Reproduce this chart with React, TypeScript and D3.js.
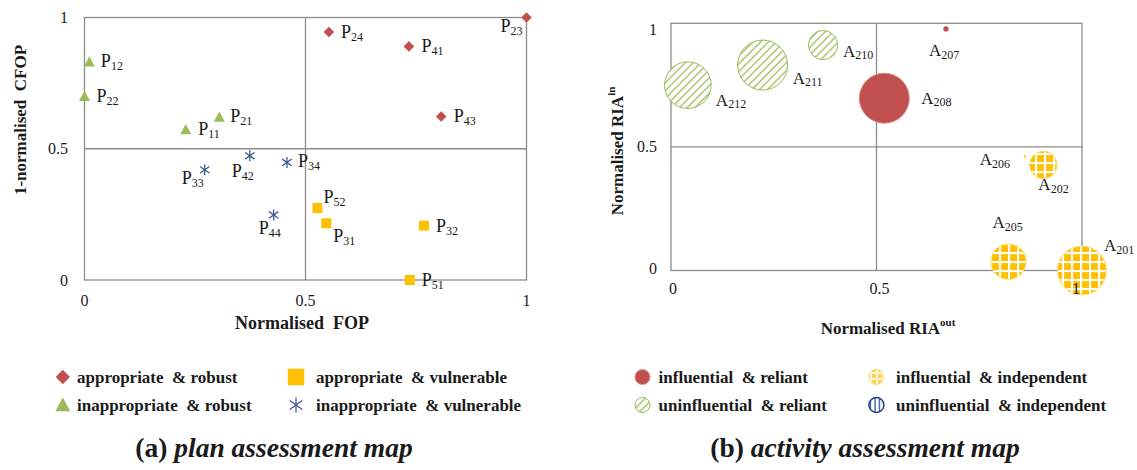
import React from 'react';
import * as d3 from 'd3';

// ---------- DATA ----------
// (a) plan assessment map
const planIds = ['23', '24', '41', '43', '12', '22', '21', '11', '42', '34', '33', '44', '52', '31', '32', '51'];
const planFOP = [1.0, 0.553, 0.734, 0.807, 0.011, 0.0, 0.305, 0.229, 0.374, 0.458, 0.272, 0.428, 0.527, 0.547, 0.768, 0.736];
const planCFOP = [1.0, 0.945, 0.89, 0.623, 0.831, 0.70, 0.621, 0.573, 0.473, 0.448, 0.42, 0.248, 0.274, 0.216, 0.207, 0.0];
const planClass = ['ar', 'ar', 'ar', 'ar', 'ir', 'ir', 'ir', 'ir', 'iv', 'iv', 'iv', 'iv', 'av', 'av', 'av', 'av'];
const planLegend = ['appropriate  & robust', 'appropriate  & vulnerable', 'inappropriate  & robust', 'inappropriate  & vulnerable'];
const planLegendClass = ['ar', 'av', 'ir', 'iv'];

// (b) activity assessment map
const actIds = ['207', '208', '210', '211', '212', '206', '202', '205', '201'];
const actRIAout = [0.669, 0.519, 0.37, 0.223, 0.041, 0.863, 0.906, 0.821, 1.0];
const actRIAin = [0.977, 0.697, 0.912, 0.831, 0.75, 0.461, 0.427, 0.036, 0.0];
const actSize = [0.011, 1.0, 0.34, 1.0, 0.87, 0.004, 0.3, 0.5, 0.95];
const actClass = ['ir', 'ir', 'ur', 'ur', 'ur', 'ii', 'ii', 'ii', 'ii'];
const actLegend = ['influential  & reliant', 'influential  & independent', 'uninfluential  & reliant', 'uninfluential  & independent'];
const actLegendClass = ['ir', 'ii', 'ur', 'ui'];

const ticks = [0, 0.5, 1];

// ---------- STYLE ----------
const FONT = '"Liberation Serif", "DejaVu Serif", serif';
const RED = '#C0504D';
const GREEN = '#9BBB59';
const YELLOW = '#FFC000';
const BLUE = '#3F5A94';
const NAVY = '#1F3F8F';
const FRAME = '#8c8c8c';
const TXT = '#1a1a1a';

const planLabelPos: Record<string, [number, number, string]> = {
  '23': [-4, 10, 'end'], '24': [12, 2, 'start'], '41': [12.5, 1.6, 'start'], '43': [12.5, 1.3, 'start'],
  '12': [11.5, 1, 'start'], '22': [12, 1.6, 'start'], '21': [11, 1, 'start'], '11': [12.5, 1.7, 'start'],
  '42': [-7, 17, 'middle'], '34': [11, 0.6, 'start'], '33': [-1, 10, 'end'], '44': [-4, 15, 'middle'],
  '52': [6, -9, 'start'], '31': [7, 15, 'start'], '32': [12, 2.6, 'start'], '51': [12, 1.7, 'start'],
};
const actLabelPos: Record<string, [number, number]> = {
  '207': [-17, 24], '208': [37, 2], '210': [20, 8], '211': [30, 15], '212': [28, 17],
  '206': [-46, 5], '202': [-5, 22], '205': [-16, -37], '201': [22, -23],
};

function PlanMarker({ cls, x, y, s = 1 }: { cls: string; x: number; y: number; s?: number }) {
  if (cls === 'ar') {
    const h = 5.3 * s;
    return <path d={`M${x},${y - h}L${x + h},${y}L${x},${y + h}L${x - h},${y}Z`} fill={RED} />;
  }
  if (cls === 'ir') {
    const h = 5.5 * s;
    return <path d={`M${x},${y - h}L${x + h},${y + h * 0.85}L${x - h},${y + h * 0.85}Z`} fill={GREEN} />;
  }
  if (cls === 'av') {
    const h = 5 * s;
    return <rect x={x - h} y={y - h} width={2 * h} height={2 * h} fill={YELLOW} />;
  }
  const h = 5.5 * s;
  return (
    <path
      d={`M${x},${y - h}L${x},${y + h}M${x - h * 0.85},${y - h * 0.6}L${x + h * 0.85},${y + h * 0.6}M${x - h * 0.85},${y + h * 0.6}L${x + h * 0.85},${y - h * 0.6}`}
      stroke={BLUE}
      strokeWidth={1.3}
      fill="none"
    />
  );
}

function actFill(cls: string, legend = false) {
  if (cls === 'ir') return RED;
  if (cls === 'ur') return 'url(#hatchGreen)';
  if (cls === 'ii') return legend ? 'url(#gridYellowSmall)' : 'url(#gridYellow)';
  return 'url(#vlinesBlue)';
}
function actStroke(cls: string) {
  if (cls === 'ir') return '#d98c8a';
  if (cls === 'ur') return GREEN;
  if (cls === 'ii') return '#FFD966';
  return NAVY;
}

export default function App() {
  const xL = d3.scaleLinear().domain([0, 1]).range([84.5, 526.5]);
  const yL = d3.scaleLinear().domain([0, 1]).range([280, 17.5]);
  const xR = d3.scaleLinear().domain([0, 1]).range([671, 1082]);
  const yR = d3.scaleLinear().domain([0, 1]).range([270.5, 23.3]);
  const rR = d3.scaleSqrt().domain([0, 1]).range([0, 25]);

  const txt = { fontFamily: FONT, fill: TXT } as React.CSSProperties;

  return (
    <svg
      width={1137}
      height={470}
      style={{ position: 'absolute', left: 0, top: 0, background: '#fff', fontFamily: FONT }}
    >
      <defs>
        <pattern id="hatchGreen" patternUnits="userSpaceOnUse" width={5.5} height={5.5} patternTransform="rotate(45)">
          <rect width={5.5} height={5.5} fill="#fff" />
          <line x1={1} y1={0} x2={1} y2={5.5} stroke={GREEN} strokeWidth={1.3} />
        </pattern>
        <pattern id="gridYellow" patternUnits="userSpaceOnUse" width={9} height={9}>
          <rect width={9} height={9} fill={YELLOW} />
          <line x1={0} y1={1} x2={9} y2={1} stroke="#fff" strokeWidth={2.2} />
          <line x1={1} y1={0} x2={1} y2={9} stroke="#fff" strokeWidth={2.2} />
        </pattern>
        <pattern id="gridYellowSmall" patternUnits="userSpaceOnUse" width={6} height={6}>
          <rect width={6} height={6} fill="#FFD54F" />
          <line x1={0} y1={1} x2={6} y2={1} stroke="#fff" strokeWidth={1.6} />
          <line x1={1} y1={0} x2={1} y2={6} stroke="#fff" strokeWidth={1.6} />
        </pattern>
        <pattern id="vlinesBlue" patternUnits="userSpaceOnUse" width={4.5} height={4.5}>
          <rect width={4.5} height={4.5} fill="#fff" />
          <line x1={2} y1={0} x2={2} y2={4.5} stroke={NAVY} strokeWidth={1.2} />
        </pattern>
      </defs>

      {/* ================= (a) plan assessment map ================= */}
      <g>
        <rect x={xL(0)} y={yL(1)} width={xL(1) - xL(0)} height={yL(0) - yL(1)} fill="none" stroke={FRAME} strokeWidth={1.3} />
        <line x1={xL(0.5)} x2={xL(0.5)} y1={yL(0)} y2={yL(1)} stroke={FRAME} strokeWidth={1.3} />
        <line x1={xL(0)} x2={xL(1)} y1={yL(0.5)} y2={yL(0.5)} stroke={FRAME} strokeWidth={1.3} />
        {ticks.map((t) => (
          <text key={'ly' + t} x={68} y={yL(t)} textAnchor="end" dominantBaseline="central" fontSize={16} style={txt}>
            {String(t)}
          </text>
        ))}
        {ticks.map((t) => (
          <text key={'lx' + t} x={xL(t)} y={300} textAnchor="middle" dominantBaseline="central" fontSize={16} style={txt}>
            {String(t)}
          </text>
        ))}
        <text x={302} y={323} textAnchor="middle" dominantBaseline="central" fontSize={18} fontWeight="bold" style={{ ...txt, whiteSpace: 'pre' }}>
          Normalised  FOP
        </text>
        <text
          transform="translate(20,120) rotate(-90)"
          textAnchor="middle"
          dominantBaseline="central"
          fontSize={17}
          fontWeight="bold"
          style={{ ...txt, whiteSpace: 'pre' }}
        >
          1-normalised  CFOP
        </text>

        {planIds.map((id, i) => {
          const cx = xL(planFOP[i]);
          const cy = yL(planCFOP[i]);
          const [dx, dy, anchor] = planLabelPos[id];
          return (
            <g key={'p' + id}>
              <PlanMarker cls={planClass[i]} x={cx} y={cy} />
              <text x={cx + dx} y={cy + dy - 2} textAnchor={anchor as any} dominantBaseline="central" fontSize={18} style={txt}>
                P<tspan fontSize={12} dy={5}>{id}</tspan>
              </text>
            </g>
          );
        })}

        {planLegend.map((lab, i) => {
          const col = i % 2;
          const row = Math.floor(i / 2);
          const mx = col === 0 ? 62.8 : 296;
          const tx = col === 0 ? 77 : 316;
          const my = row === 0 ? 377 : 405;
          return (
            <g key={'pl' + i}>
              <PlanMarker cls={planLegendClass[i]} x={mx} y={my} s={planLegendClass[i] === 'av' ? 1.65 : 1.35} />
              <text x={tx} y={my} dominantBaseline="central" fontSize={17} fontWeight="bold" style={{ ...txt, whiteSpace: 'pre' }}>
                {lab}
              </text>
            </g>
          );
        })}

        <text x={274} y={447} textAnchor="middle" dominantBaseline="central" fontSize={27.5} fontWeight="bold" style={txt}>
          (a) <tspan fontStyle="italic">plan assessment map</tspan>
        </text>
      </g>

      {/* ================= (b) activity assessment map ================= */}
      <g>
        <rect x={xR(0)} y={yR(1)} width={xR(1) - xR(0)} height={yR(0) - yR(1)} fill="none" stroke={FRAME} strokeWidth={1.3} />
        <line x1={xR(0.5)} x2={xR(0.5)} y1={yR(0)} y2={yR(1)} stroke={FRAME} strokeWidth={1.3} />
        <line x1={xR(0)} x2={xR(1)} y1={yR(0.5)} y2={yR(0.5)} stroke={FRAME} strokeWidth={1.3} />
        {ticks.map((t) => (
          <text key={'ry' + t} x={657} y={yR(t) + (t === 1 ? 6 : t === 0 ? -2 : 0)} textAnchor="end" dominantBaseline="central" fontSize={16} style={txt}>
            {String(t)}
          </text>
        ))}

        {actIds.map((id, i) => {
          const cx = xR(actRIAout[i]);
          const cy = yR(actRIAin[i]);
          const r = rR(actSize[i]);
          return (
            <circle
              key={'b' + id}
              cx={cx}
              cy={cy}
              r={r}
              fill={actFill(actClass[i])}
              stroke={r > 4 ? actStroke(actClass[i]) : 'none'}
              strokeWidth={1}
            />
          );
        })}

        {ticks.map((t) => (
          <text key={'rx' + t} x={xR(t) + (t === 0 ? 2 : t === 1 ? -6 : 3)} y={288} textAnchor="middle" dominantBaseline="central" fontSize={16} style={txt}>
            {String(t)}
          </text>
        ))}

        {actIds.map((id, i) => {
          const cx = xR(actRIAout[i]);
          const cy = yR(actRIAin[i]);
          const [dx, dy] = actLabelPos[id];
          return (
            <text key={'bl' + id} x={cx + dx} y={cy + dy - 2} dominantBaseline="central" fontSize={17} style={txt}>
              A<tspan fontSize={12} dy={4}>{id}</tspan>
            </text>
          );
        })}

        <text x={888} y={328} textAnchor="middle" dominantBaseline="central" fontSize={17} fontWeight="bold" style={txt}>
          Normalised RIA<tspan fontSize={11} dy={-6}>out</tspan>
        </text>
        <text
          transform="translate(617,151) rotate(-90)"
          textAnchor="middle"
          dominantBaseline="central"
          fontSize={17}
          fontWeight="bold"
          style={txt}
        >
          Normalised RIA<tspan fontSize={11} dy={-6}>in</tspan>
        </text>

        {actLegend.map((lab, i) => {
          const col = i % 2;
          const row = Math.floor(i / 2);
          const mx = col === 0 ? 642.5 : 876.4;
          const tx = col === 0 ? 658.6 : 896;
          const my = row === 0 ? 377 : 405;
          const cls = actLegendClass[i];
          return (
            <g key={'al' + i}>
              <circle cx={mx} cy={my} r={7.5} fill={actFill(cls, true)} stroke={actStroke(cls)} strokeWidth={cls === 'ui' ? 1.5 : 1} />
              <text x={tx} y={my} dominantBaseline="central" fontSize={17} fontWeight="bold" style={{ ...txt, whiteSpace: 'pre' }}>
                {lab}
              </text>
            </g>
          );
        })}

        <text x={865} y={447} textAnchor="middle" dominantBaseline="central" fontSize={27.5} fontWeight="bold" style={txt}>
          (b) <tspan fontStyle="italic">activity assessment map</tspan>
        </text>
      </g>
    </svg>
  );
}
